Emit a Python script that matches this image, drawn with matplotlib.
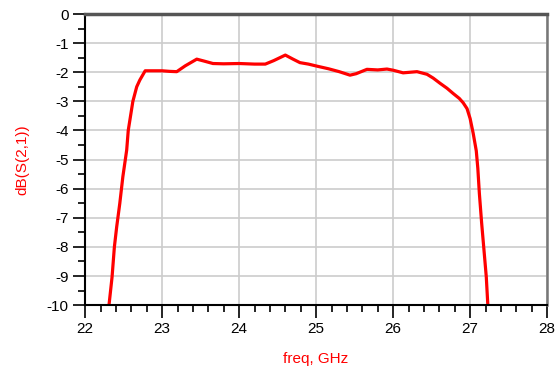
import matplotlib.pyplot as plt
from matplotlib.ticker import MultipleLocator

plt.rcParams['font.family'] = ['Liberation Sans', 'DejaVu Sans']
plt.rcParams['axes.unicode_minus'] = False

# S21 response
freq = [22.29, 22.31, 22.35, 22.38, 22.41, 22.45, 22.49, 22.54, 22.56, 22.62,
        22.67, 22.71, 22.78, 22.90, 23.00, 23.10, 23.19, 23.30, 23.45, 23.55,
        23.66, 23.80, 24.00, 24.20, 24.34, 24.45, 24.60, 24.70, 24.79, 24.90,
        25.01, 25.16, 25.30, 25.44, 25.52, 25.66, 25.80, 25.92, 26.00, 26.13,
        26.31, 26.44, 26.52, 26.61, 26.70, 26.78, 26.86, 26.91, 26.96, 27.00,
        27.04, 27.08, 27.10, 27.12, 27.15, 27.18, 27.21, 27.23, 27.24]
s21_db = [-10.3, -10.0, -9.03, -8.0, -7.31, -6.51, -5.59, -4.67, -4.0, -3.0,
          -2.5, -2.27, -1.95, -1.95, -1.95, -1.97, -1.98, -1.78, -1.55, -1.62,
          -1.70, -1.71, -1.70, -1.72, -1.72, -1.60, -1.41, -1.55, -1.67, -1.72,
          -1.79, -1.88, -1.98, -2.10, -2.05, -1.90, -1.92, -1.89, -1.93, -2.02,
          -1.98, -2.07, -2.20, -2.38, -2.55, -2.73, -2.90, -3.05, -3.25, -3.59,
          -4.10, -4.70, -5.30, -6.16, -7.19, -8.11, -9.03, -10.0, -10.3]

fig = plt.figure(figsize=(5.6, 3.69), dpi=100)
ax = fig.add_axes([0.152, 0.173, 0.825, 0.789])

ax.plot(freq, s21_db, color='#ff0000', linewidth=2.3, solid_capstyle='butt')

ax.set_xlim(22, 28)
ax.set_ylim(-10, 0)
ax.xaxis.set_major_locator(MultipleLocator(1))
ax.xaxis.set_minor_locator(MultipleLocator(0.2))
ax.yaxis.set_major_locator(MultipleLocator(1))
ax.yaxis.set_minor_locator(MultipleLocator(0.5))

ax.grid(True, which='major', color='#cccccc', linewidth=1.2)
ax.set_axisbelow(True)

ax.tick_params(which='major', direction='out', length=9, width=1.2,
               labelsize=11, colors='black', pad=3)
ax.tick_params(which='minor', direction='out', length=5, width=1.2)

for side in ['left', 'bottom']:
    ax.spines[side].set_color('black')
    ax.spines[side].set_linewidth(1.5)
ax.spines['top'].set_color('#555555')
ax.spines['top'].set_linewidth(2.5)
ax.spines['right'].set_color('#777777')
ax.spines['right'].set_linewidth(1.8)

ax.set_xlabel('freq, GHz', color='#ff0000', fontsize=11, labelpad=12)
ax.set_ylabel('dB(S(2,1))', color='#ff0000', fontsize=11, labelpad=12)

fig.savefig('out.png', dpi=100)
